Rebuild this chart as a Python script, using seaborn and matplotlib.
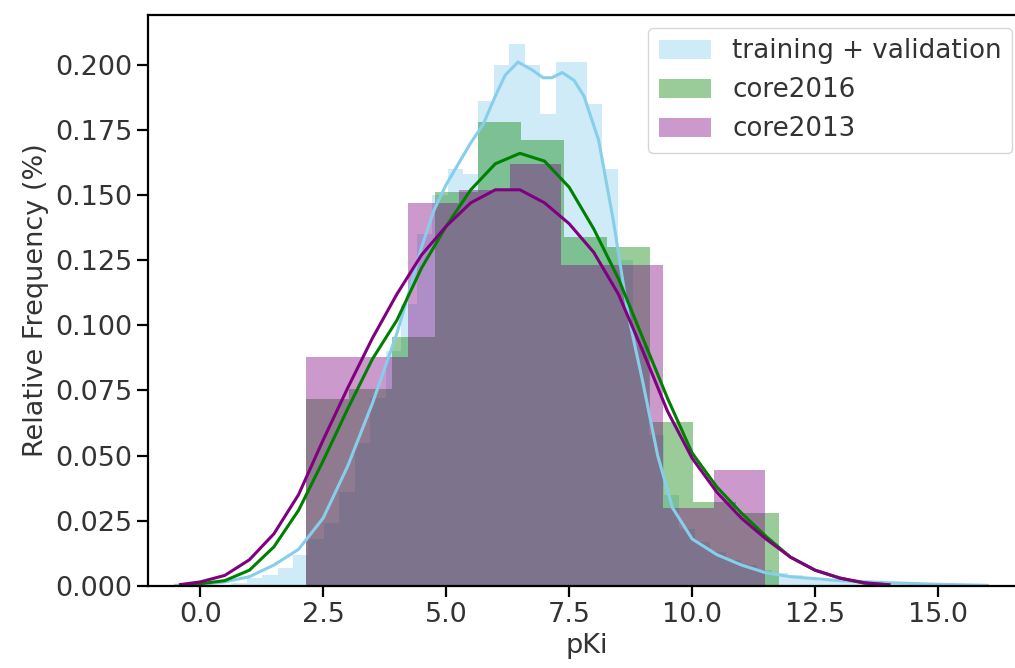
import numpy as np
import pandas as pd
import matplotlib
matplotlib.use("Agg")
import matplotlib.pyplot as plt
from matplotlib.patches import Patch
import seaborn as sns

# === histogram data (density per bin) ===
train_edges = np.linspace(0.316, 16.026, 51)
train_heights = [0.0005, 0.001, 0.003, 0.004, 0.007, 0.012, 0.018, 0.024, 0.036, 0.055,
                 0.072, 0.090, 0.108, 0.135, 0.150, 0.160, 0.158, 0.186, 0.200, 0.208,
                 0.200, 0.181, 0.201, 0.201, 0.185, 0.160, 0.125, 0.092, 0.058, 0.035,
                 0.022, 0.017, 0.013, 0.010, 0.008, 0.006, 0.005, 0.004, 0.003, 0.002,
                 0.002, 0.0015, 0.001, 0.001, 0.0008, 0.0008, 0.0006, 0.0006, 0.0005, 0.0005]

core16_edges = np.linspace(2.155, 11.77, 12)
core16_heights = [0.0718, 0.0756, 0.0956, 0.151, 0.178, 0.171, 0.134, 0.130, 0.063, 0.032, 0.028]

core13_edges = np.linspace(2.155, 11.49, 10)
core13_heights = [0.088, 0.088, 0.147, 0.152, 0.162, 0.123, 0.123, 0.030, 0.0445]

# === KDE curves ===
train_kde_x = [-0.5, 0.0, 0.5, 1.0, 1.5, 2.0, 2.5, 3.0, 3.5, 4.0, 4.25, 4.5, 4.75, 5.0, 5.25,
               5.5, 5.75, 6.0, 6.2, 6.46, 6.75, 6.97, 7.15, 7.36, 7.6, 7.8, 8.1, 8.4, 8.7,
               9.0, 9.3, 9.6, 10.0, 10.5, 11.0, 11.5, 12.0, 13.0, 14.0, 15.0, 16.0]
train_kde_y = [0.0002, 0.0005, 0.0015, 0.0035, 0.008, 0.014, 0.026, 0.046, 0.070, 0.097,
               0.113, 0.130, 0.144, 0.154, 0.162, 0.170, 0.177, 0.188, 0.196, 0.201, 0.198,
               0.195, 0.195, 0.197, 0.194, 0.188, 0.171, 0.140, 0.104, 0.078, 0.050, 0.030,
               0.018, 0.012, 0.008, 0.005, 0.0035, 0.002, 0.0012, 0.0006, 0.0002]

core16_kde_x = [-0.3, 0.0, 0.5, 1.0, 1.5, 2.0, 2.5, 3.0, 3.5, 4.0, 4.5, 5.0, 5.5, 6.0, 6.5,
                7.0, 7.5, 8.0, 8.5, 9.0, 9.5, 10.0, 10.5, 11.0, 11.5, 12.0, 12.5, 13.0, 13.5, 14.0]
core16_kde_y = [0.0003, 0.0008, 0.002, 0.006, 0.015, 0.029, 0.048, 0.068, 0.087, 0.102,
                0.122, 0.138, 0.152, 0.162, 0.166, 0.163, 0.153, 0.137, 0.118, 0.095,
                0.072, 0.051, 0.038, 0.028, 0.019, 0.011, 0.006, 0.003, 0.001, 0.0004]

core13_kde_x = [-0.4, 0.0, 0.5, 1.0, 1.5, 2.0, 2.5, 3.0, 3.5, 4.0, 4.5, 5.0, 5.5, 6.0, 6.5,
                7.0, 7.5, 8.0, 8.5, 9.0, 9.5, 10.0, 10.5, 11.0, 11.5, 12.0, 12.5, 13.0, 13.5, 14.0]
core13_kde_y = [0.0005, 0.0015, 0.004, 0.010, 0.020, 0.035, 0.056, 0.076, 0.095, 0.112,
                0.127, 0.138, 0.147, 0.152, 0.152, 0.147, 0.139, 0.128, 0.112, 0.090,
                0.067, 0.049, 0.036, 0.026, 0.018, 0.011, 0.006, 0.003, 0.0012, 0.0004]

labels = ["training + validation", "core2016", "core2013"]
colors = ["skyblue", "green", "purple"]

plt.rcParams["font.family"] = "DejaVu Sans"
plt.rcParams["font.size"] = 19.5
plt.rcParams["text.color"] = "#333333"
plt.rcParams["xtick.labelcolor"] = "#333333"
plt.rcParams["ytick.labelcolor"] = "#333333"
plt.rcParams["axes.labelcolor"] = "#333333"

fig = plt.figure(figsize=(10.15, 6.68), dpi=100)
# right spine sits just past the image edge, as in the reference crop
ax = fig.add_axes([0.146, 0.123, 0.864, 0.855])

series = [
    (train_edges, train_heights, train_kde_x, train_kde_y),
    (core16_edges, core16_heights, core16_kde_x, core16_kde_y),
    (core13_edges, core13_heights, core13_kde_x, core13_kde_y),
]

for (edges, heights, kx, ky), col in zip(series, colors):
    hist_df = pd.DataFrame({"x": (edges[:-1] + edges[1:]) / 2, "w": heights})
    sns.histplot(data=hist_df, x="x", weights="w", bins=list(edges), stat="count",
                 color=col, alpha=0.4, edgecolor="none", linewidth=0, ax=ax)
    sns.lineplot(x=kx, y=ky, color=col, lw=2.2, legend=False, ax=ax)

ax.set_xlim(-1.057, 16.77)
ax.set_ylim(0, 0.2192)
ax.set_xticks([0, 2.5, 5, 7.5, 10, 12.5, 15])
ax.set_xticklabels(["0.0", "2.5", "5.0", "7.5", "10.0", "12.5", "15.0"])
ax.set_yticks(np.arange(0, 0.201, 0.025))
ax.set_yticklabels([f"{v:.3f}" for v in np.arange(0, 0.201, 0.025)])
ax.set_xlabel("pKi")
ax.set_ylabel("Relative Frequency (%)")
ax.tick_params(length=8, width=1.6)
for sp in ax.spines.values():
    sp.set_linewidth(1.6)

handles = [Patch(facecolor=c, alpha=0.4) for c in colors]
ax.legend(handles, labels, loc="upper right", fontsize=18.8, handlelength=2.0,
          handletextpad=0.8, handleheight=0.75)

fig.savefig("out.png", dpi=100)
